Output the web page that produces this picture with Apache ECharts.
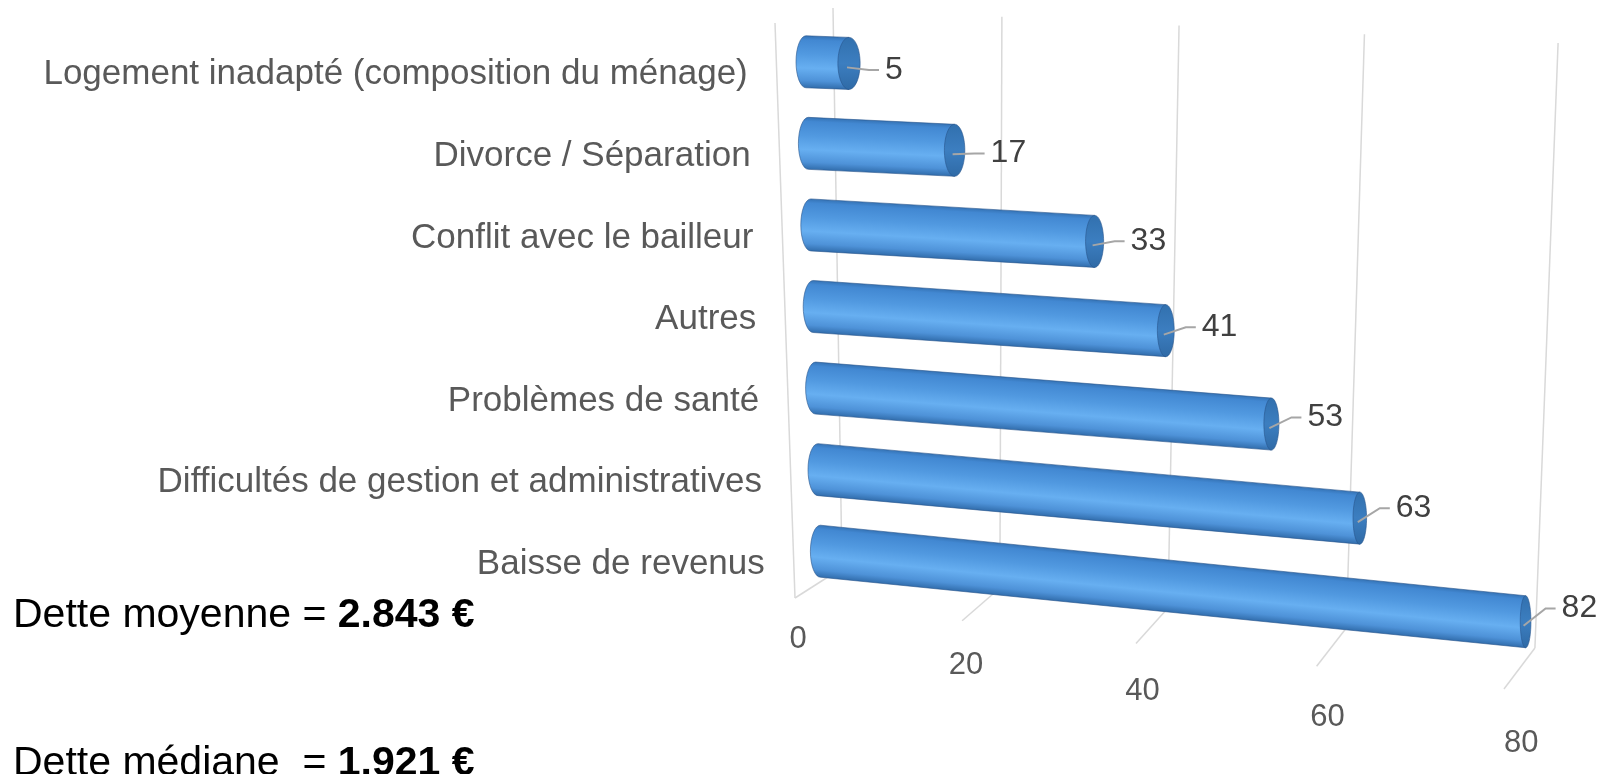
<!DOCTYPE html>
<html>
<head>
<meta charset="UTF-8">
<title>Causes de la dette</title>
<script src="https://cdn.jsdelivr.net/npm/echarts@6/dist/echarts.min.js"></script>
<style>
html, body { margin: 0; padding: 0; background: #fff; }
#main { width: 1614px; height: 774px; }
</style>
</head>
<body>
<div id="main"></div>
<script>
// donnees
var categories = ['Logement inadapté (composition du ménage)', 'Divorce / Séparation', 'Conflit avec le bailleur',
    'Autres', 'Problèmes de santé', 'Difficultés de gestion et administratives', 'Baisse de revenus'];
var values = [5, 17, 33, 41, 53, 63, 82];
var ticks = [0, 20, 40, 60, 80];
var detteMoyenne = '2.843 €';
var detteMediane = '1.921 €';

var FONT = '"Liberation Sans", Arial, sans-serif';

// faux 3D : plans du fond / du sol en fonction de u (pixels depuis 0 sur l'axe des valeurs)
var planes = {
    backTop: { x0: 27, a: 0.958, b: 1.394e-4, y0: 8, k: 0.0509 },
    backBot: { x0: 36, a: 0.888, b: 1.732e-4, y0: 568, k: 0.1163 },
    front:   { x0: -11, a: 0.952, b: 1.141e-4, y0: 598, k: 0.1323 }
};
function onPlane(p, X0, u) {
    return [X0 + p.x0 + p.a * u + p.b * u * u, p.y0 + p.k * u];
}

var lineStyle = { stroke: '#d9d9d9', lineWidth: 1.5 };

function renderGrid(params, api) {
    var t = api.value(0);
    var X0 = api.coord([0, 0])[0];
    var u = api.coord([t, 0])[0] - X0;
    var top = onPlane(planes.backTop, X0, u);
    var bot = onPlane(planes.backBot, X0, u);
    var fr = onPlane(planes.front, X0, u);
    var children = [
        { type: 'line', shape: { x1: top[0], y1: top[1], x2: bot[0], y2: bot[1] }, style: lineStyle },
        { type: 'line', shape: { x1: bot[0], y1: bot[1], x2: fr[0], y2: fr[1] }, style: lineStyle },
        { type: 'text', x: fr[0] + 3 + 0.00003 * u * u, y: fr[1] + 41 + 0.019 * u,
          style: { text: String(t), fill: '#595959', font: '31px ' + FONT, align: 'center', verticalAlign: 'middle' } }
    ];
    if (t === 0) {
        // arete avant du mur gauche
        children.push({ type: 'line', shape: { x1: X0 - 31, y1: 23, x2: fr[0], y2: fr[1] }, style: lineStyle });
    }
    return { type: 'group', children: children };
}

function renderBar(params, api) {
    var v = api.value(0), i = api.value(1);
    var base = api.coord([0, i]), end = api.coord([v, i]);
    var X0 = base[0];
    var shift = 2.4 * i, slope = 0.037 + 0.0105 * i;
    var xs = base[0] + shift, ys = base[1];
    var xe = end[0] + shift, ye = ys + slope * (xe - xs);
    var r = 26, rxL = 10, rxR = 11.5 - 0.075 * v;

    var pts = [];
    for (var k = 0; k <= 16; k++) {
        var th = Math.PI / 2 + Math.PI * k / 16;
        pts.push([xs + rxL * Math.cos(th), ys + r * Math.sin(th)]);
    }
    pts.push([xe, ye - r]);
    pts.push([xe, ye + r]);

    var len = Math.sqrt(1 + slope * slope);
    var nx = -slope / len, ny = 1 / len;
    var mx = (xs + xe) / 2, my = (ys + ye) / 2;
    var bodyFill = new echarts.graphic.LinearGradient(mx - r * nx, my - r * ny, mx + r * nx, my + r * ny, [
        { offset: 0, color: '#3573b5' },
        { offset: 0.08, color: '#4288d2' },
        { offset: 0.35, color: '#5199e0' },
        { offset: 0.62, color: '#67aff1' },
        { offset: 0.86, color: '#4e92d8' },
        { offset: 1, color: '#316dac' }
    ], true);
    var capFill = new echarts.graphic.LinearGradient(0, 0, 0, 1, [
        { offset: 0, color: '#3170ae' },
        { offset: 0.5, color: '#3c7ec0' },
        { offset: 1, color: '#2f6aa6' }
    ]);

    var lx = xe + 20, ly = ye + 6.5 - 3.3 * i;
    var wallX = X0 - 31 + 20 * (ys + 12 - 23) / 575;

    return {
        type: 'group',
        children: [
            { type: 'polygon', shape: { points: pts },
              style: { fill: bodyFill, stroke: 'rgba(40,85,140,0.6)', lineWidth: 1 } },
            { type: 'ellipse', shape: { cx: xe, cy: ye, rx: rxR, ry: r },
              style: { fill: capFill, stroke: 'rgba(40,85,140,0.6)', lineWidth: 1 } },
            { type: 'polyline', shape: { points: [[xe - 2, ye + 4], [lx, ly], [lx + 10, ly]] },
              style: { stroke: '#a6a6a6', lineWidth: 2, fill: null } },
            { type: 'text', x: lx + 16, y: ly,
              style: { text: String(v), fill: '#404040', font: '32px ' + FONT, align: 'left', verticalAlign: 'middle' } },
            { type: 'text', x: wallX - 29, y: ys + 13,
              style: { text: categories[i], fill: '#595959', font: '35px ' + FONT, align: 'right', verticalAlign: 'middle' } }
        ]
    };
}

var myChart = echarts.init(document.getElementById('main'));
var option = {
    backgroundColor: '#fff',
    animation: false,
    grid: { left: 806, right: 120, top: 21, bottom: 182 },
    xAxis: { type: 'value', min: 0, max: 80, show: false },
    yAxis: { type: 'category', data: categories, inverse: true, show: false },
    series: [
        {
            type: 'custom',
            renderItem: renderGrid,
            data: ticks.map(function (t) { return [t, 0]; }),
            z: 1,
            silent: true
        },
        {
            type: 'custom',
            renderItem: renderBar,
            data: values.map(function (v, i) { return [v, i]; }),
            z: 2
        }
    ],
    graphic: [
        { type: 'text', x: 13, y: 616,
          style: { text: '{n|Dette moyenne = }{b|' + detteMoyenne + '}', verticalAlign: 'middle',
                   rich: { n: { fontSize: 41, fontFamily: FONT, fill: '#000' },
                           b: { fontSize: 41, fontFamily: FONT, fontWeight: 'bold', fill: '#000' } } } },
        { type: 'text', x: 13, y: 764,
          style: { text: '{n|Dette médiane  = }{b|' + detteMediane + '}', verticalAlign: 'middle',
                   rich: { n: { fontSize: 41, fontFamily: FONT, fill: '#000' },
                           b: { fontSize: 41, fontFamily: FONT, fontWeight: 'bold', fill: '#000' } } } }
    ]
};
myChart.setOption(option);
</script>
</body>
</html>
